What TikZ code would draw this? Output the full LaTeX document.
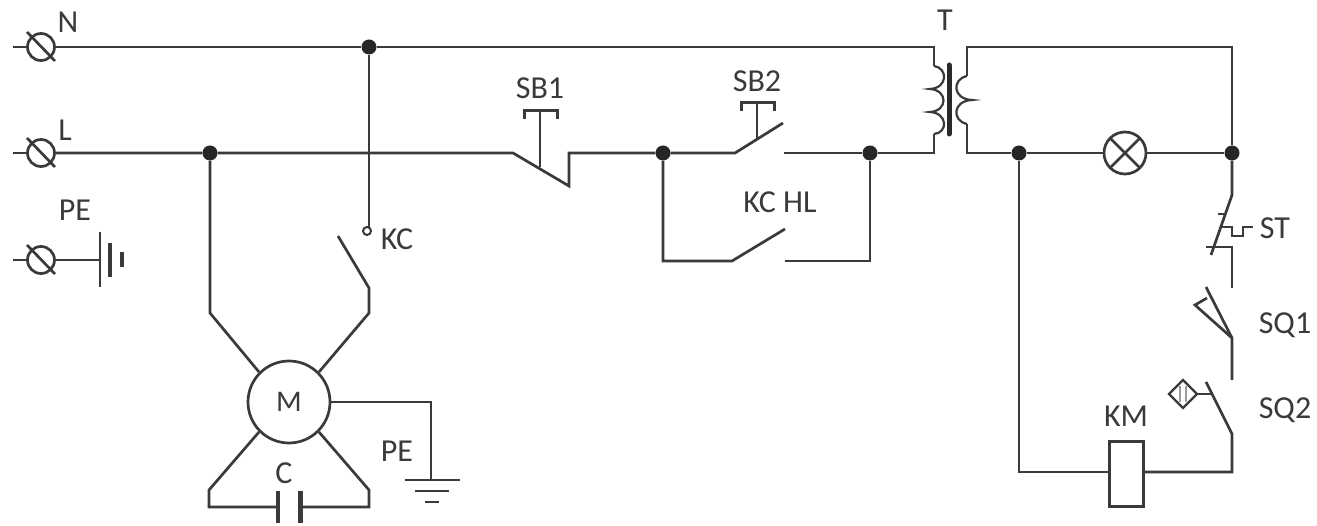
\documentclass[tikz,border=0pt]{standalone}
\usepackage{fontspec}
\setmainfont{Carlito}
\definecolor{ink}{HTML}{3A3A3A}
\tikzset{
  wire/.style={draw=ink,line width=2.7pt,line join=miter},
  thin wire/.style={draw=ink,line width=2.2pt},
  heavy/.style={draw=ink!70!black,line width=4pt},
  dot/.style={circle,fill=black!85,draw=none,minimum size=15pt,inner sep=0pt},
  terminal/.style={circle,draw=ink,line width=2.7pt,minimum size=27pt,inner sep=0pt,fill=white},
  lamp/.style={circle,draw=ink,line width=2.7pt,minimum size=42pt,inner sep=0pt},
  motor/.style={circle,draw=ink,line width=2.7pt,minimum size=82pt,inner sep=0pt,font=\fontsize{30}{30}\selectfont,text=ink},
  coil/.style={rectangle,draw=ink,line width=3pt,minimum width=34pt,minimum height=65pt,inner sep=0pt},
  lab/.style={inner sep=0pt,text=ink,font=\fontsize{32}{32}\selectfont},
}
\begin{document}
\begin{tikzpicture}[x=1pt,y=-1pt]
\useasboundingbox (0,0) rectangle (1317,526);
% terminals
\node[terminal] (tN) at (41,47) {};
\node[terminal] (tL) at (41,153) {};
\node[terminal] (tP) at (41,260) {};
\foreach \t in {tN,tL,tP}{
  \draw[wire] ([shift={(-14,-15)}]\t.center) -- ([shift={(14,14)}]\t.center);
  \draw[wire] ([xshift=-28pt]\t.center) -- (\t.west);
}
% junctions
\node[dot] (jN) at (369,47) {};
\node[dot] (jL) at (210,153) {};
\node[dot] (j1) at (663,153) {};
\node[dot] (j2) at (870,153) {};
\node[dot] (j3) at (1019,153) {};
\node[dot] (j4) at (1232,153) {};
% main nodes
\node[motor] (M) at (289,402) {M};
\node[lamp] (HL) at (1125,153) {};
\node[coil] (KM) at (1126,474) {};
\draw[wire] (HL.center) ++(-15,-15) -- ++(30,30);
\draw[wire] (HL.center) ++(15,-15) -- ++(-30,30);
% coordinates
\coordinate (tp1) at (934,47);
\coordinate (tp2) at (934,66);
\coordinate (tp3) at (934,134);
\coordinate (ts1) at (967,47);
\coordinate (ts2) at (967,76);
\coordinate (ts3) at (967,124);
\coordinate (ts4) at (967,153);
\coordinate (sb1a) at (513,153);
\coordinate (sb1b) at (569,186);
\coordinate (sb1c) at (569,153);
\coordinate (sb2a) at (735,153);
\coordinate (sb2b) at (783,123);
\coordinate (sb2c) at (784,153);
\coordinate (kha) at (732,261);
\coordinate (khb) at (785,229);
\coordinate (khc) at (785,261);
% N and L lines
\draw[wire] (tN) -- (jN) -- (tp1) -- (tp2);
\draw[wire] (tL) -- (jL) -- (sb1a) -- (sb1b) -- (sb1c) -- (j1) -- (sb2a) -- (sb2b);
\draw[wire] (sb2c) -- (j2) -- (870,261) -- (khc);
\draw[wire] (j1) -- (663,261) -- (kha) -- (khb);
\draw[wire] (j2) -- (934,153) -- (tp3);
% SB1 / SB2 buttons
\draw[thin wire] (540,167) -- (540,111);
\draw[wire,line width=3pt] (524,119) -- (524,111) -- (557,111) -- (557,119);
\draw[thin wire] (757,138) -- (757,103);
\draw[wire,line width=3pt] (741,111) -- (741,103) -- (774,103) -- (774,111);
% transformer
\draw[thin wire] (tp2) .. controls (948,68) and (948,88) .. (930,89)
   .. controls (948,90) and (948,111) .. (930,112)
   .. controls (948,113) and (948,133) .. (tp3);
\draw[heavy,line width=5pt,line cap=round] (949,65) -- (949,134);
\draw[thin wire] (ts2) .. controls (952,79) and (952,99) .. (972,100)
   .. controls (952,101) and (952,121) .. (ts3);
\draw[wire] (ts2) -- (ts1) -- (1232,47) -- (j4);
\draw[wire] (ts3) -- (ts4) -- (j3) -- (HL) -- (j4);
% ST
\coordinate (st1) at (1232,195);
\coordinate (st2) at (1211,255);
\coordinate (st3) at (1232,247);
\coordinate (st4) at (1232,288);
\draw[wire] (j4) -- (st1) -- (st2);
\draw[wire] (1206,247) -- (st3) -- (st4);
\draw[thin wire] (1218,214) -- (1226,214);
\draw[thin wire] (1222,227) -- (1232,227) -- (1232,236) -- (1243,236) -- (1243,227) -- (1253,227);
% SQ1
\coordinate (q1a) at (1232,380);
\coordinate (q1b) at (1232,338);
\coordinate (q1c) at (1206,287);
\draw[wire] (q1a) -- (q1b) -- (q1c);
\draw[wire] (1207,298) -- (1195,305) -- (q1b);
% SQ2
\coordinate (q2a) at (1232,434);
\coordinate (q2b) at (1206,382);
\coordinate (q2c) at (1232,472);
\draw[wire] (q2b) -- (q2a) -- (q2c) -- (KM.east |- q2c);
\draw[wire] (j3) -- (1019,472) -- (KM.west |- q2c);
\draw[thin wire] (1197,394) -- (1183,380) -- (1169,394) -- (1183,408) -- cycle;
\draw[thin wire] (1197,394) -- (1211,394);
\draw[draw=ink!50,line width=1.2pt] (1180,386) -- (1180,402) (1186,386) -- (1186,402);
% motor wiring
\coordinate (ml1) at (210,313);
\coordinate (mr1) at (369,313);
\coordinate (mr2) at (369,288);
\coordinate (kcf) at (338,236);
\draw[wire] (jL) -- (ml1) -- (M.135);
\draw[wire] (kcf) -- (mr2) -- (mr1) -- (M.45);
\draw[wire] (jN) -- (369,228);
\node[circle,draw=ink,line width=2pt,minimum width=5pt,minimum height=8pt,inner sep=0pt] (kco) at (367,231) {};
% capacitor
\coordinate (cl) at (209,490);
\coordinate (cb) at (209,507);
\coordinate (cr) at (369,490);
\coordinate (cs) at (369,507);
\coordinate (c1) at (278,507);
\coordinate (c2) at (300,507);
\draw[wire] (M.225) -- (cl) -- (cb) -- (c1);
\draw[wire] (M.-45) -- (cr) -- (cs) -- (c2);
\draw[wire,line width=3.6pt] (278,491) -- (278,523);
\draw[wire,line width=5pt] (300,491) -- (300,523);
% motor ground
\coordinate (g1) at (431,402);
\coordinate (g2) at (431,480);
\draw[thin wire] (M.east) -- (g1) -- (g2);
\draw[thin wire] (405,480) -- (460,480);
\draw[thin wire] (415,491) -- (449,491);
\draw[thin wire] (425,502) -- (439,502);
% PE earth
\draw[wire] (tP) -- (100,260);
\draw[thin wire] (100,232) -- (100,287);
\draw[wire,line width=3.8pt] (110,243) -- (110,277);
\draw[wire,line width=3.8pt] (122,252) -- (122,267);
% labels
\node[lab] (lN) at (68,22) {N};
\node[lab] (lL) at (65,130) {L};
\node[lab] (lPE) at (75,210) {PE};
\node[lab] (lKC) at (397,239) {KC};
\node[lab] (lSB1) at (540,88) {SB1};
\node[lab] (lSB2) at (757,81) {SB2};
\node[lab] (lKH) at (780,202) {KC HL};
\node[lab] (lT) at (945,20) {T};
\node[lab] (lST) at (1275,228) {ST};
\node[lab] (lQ1) at (1285,325) {SQ1};
\node[lab] (lQ2) at (1285,410) {SQ2};
\node[lab] (lKM) at (1126,416) {KM};
\node[lab] (lC) at (284,473) {C};
\node[lab] (lPE2) at (397,451) {PE};
\end{tikzpicture}
\end{document}
